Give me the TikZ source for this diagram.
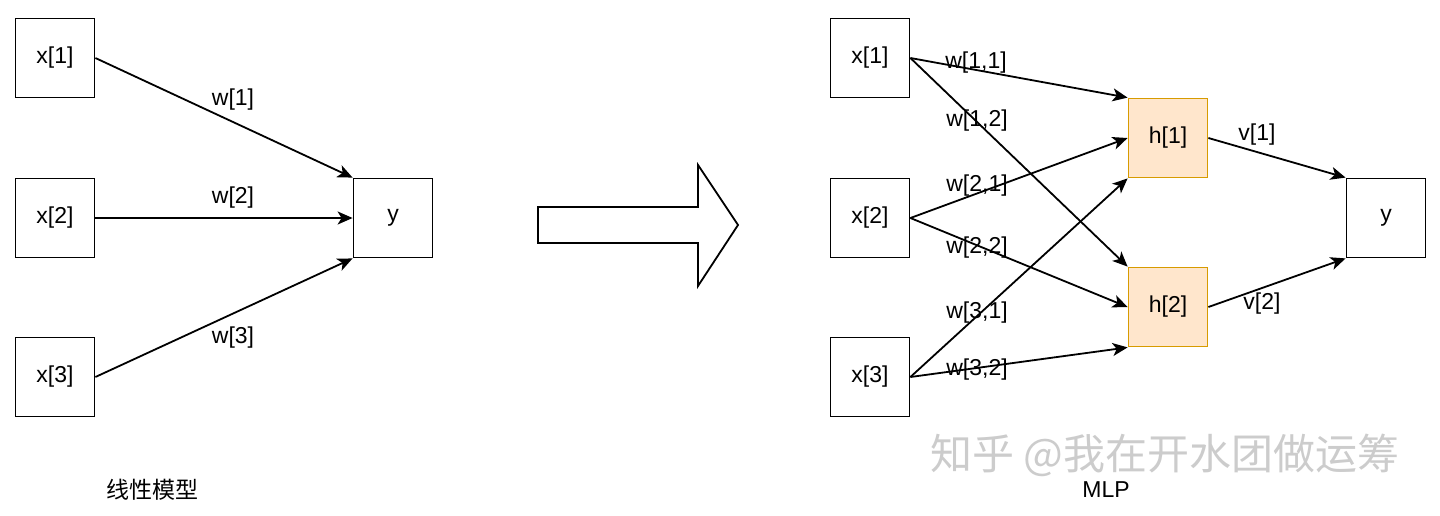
\documentclass[tikz,border=0pt]{standalone}
\usepackage{fontspec}
\setmainfont{Liberation Sans}
\newfontfamily\cjk{Noto Sans CJK SC}
\usetikzlibrary{arrows.meta}

\definecolor{hidfill}{HTML}{FFE6CC}
\definecolor{hiddraw}{HTML}{D79B00}
\tikzset{
  unit/.style={draw, line width=1.8pt, minimum width=79pt, minimum height=79pt,
    inner sep=0pt, font=\fontsize{23}{27}\selectfont},
  hid/.style={unit, fill=hidfill, draw=hiddraw},
  wire/.style={line width=1.8pt, -{Stealth[length=15pt,width=13pt,inset=4pt]}},
  lbl/.style={inner sep=0pt, font=\fontsize{23}{27}\selectfont},
}

\begin{document}
\begin{tikzpicture}[x=1pt, y=-1pt]
  \useasboundingbox (0,0) rectangle (1440,515);

  % linear model
  \node[unit] (x1) at (55,58)  {x[1]};
  \node[unit] (x2) at (55,218) {x[2]};
  \node[unit] (x3) at (55,377) {x[3]};
  \node[unit] (y)  at (393,218) {y};
  \draw[wire] (x1.east) -- (y.north west);
  \draw[wire] (x2.east) -- (y.west);
  \draw[wire] (x3.east) -- (y.south west);
  \node[lbl] (w1) at (233,100) {w[1]};
  \node[lbl] (w2) at (233,198) {w[2]};
  \node[lbl] (w3) at (233,338) {w[3]};
  \node[lbl] (lin) at (152,490) {\cjk 线性模型};

  % big arrow
  \draw[line width=1.8pt, line join=miter]
    (538,207) -- (698,207) -- (698,165) -- (738,225) -- (698,286)
    -- (698,243) -- (538,243) -- cycle;

  % MLP
  \node[unit] (a1) at (870,58)  {x[1]};
  \node[unit] (a2) at (870,218) {x[2]};
  \node[unit] (a3) at (870,377) {x[3]};
  \node[hid]  (h1) at (1168,138) {h[1]};
  \node[hid]  (h2) at (1168,307) {h[2]};
  \node[unit] (out) at (1386,218) {y};
  \draw[wire] (a1.east) -- (h1.north west);
  \draw[wire] (a1.east) -- (h2.north west);
  \draw[wire] (a2.east) -- (h1.west);
  \draw[wire] (a2.east) -- (h2.west);
  \draw[wire] (a3.east) -- (h1.south west);
  \draw[wire] (a3.east) -- (h2.south west);
  \draw[wire] (h1.east) -- (out.north west);
  \draw[wire] (h2.east) -- (out.south west);
  \node[lbl] (w11) at (976,63)  {w[1,1]};
  \node[lbl] (w12) at (977,121) {w[1,2]};
  \node[lbl] (w21) at (977,186) {w[2,1]};
  \node[lbl] (w22) at (977,248) {w[2,2]};
  \node[lbl] (w31) at (977,313) {w[3,1]};
  \node[lbl] (w32) at (977,370) {w[3,2]};
  \node[lbl] (v1) at (1257,135) {v[1]};
  \node[lbl] (v2) at (1262,304) {v[2]};
  \node[lbl] (mlp) at (1106,490) {MLP};

  % watermark
  \node[inner sep=0pt, text=gray!40, font=\fontsize{42}{46}\selectfont\cjk]
    (mark) at (1165,455) {知乎 @我在开水团做运筹};
\end{tikzpicture}
\end{document}
